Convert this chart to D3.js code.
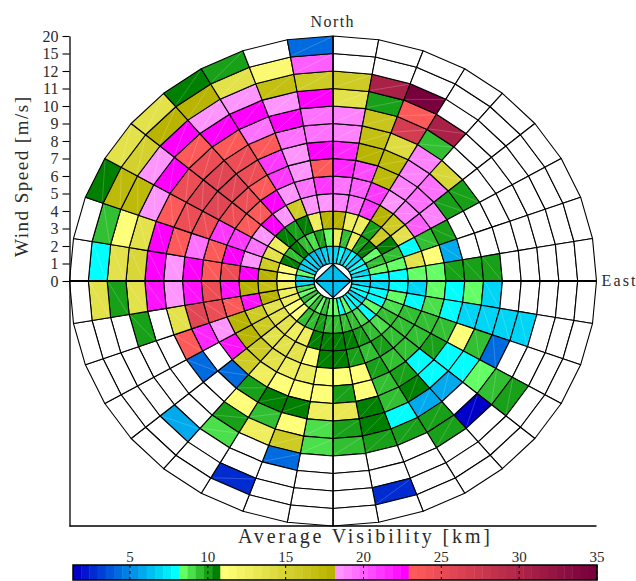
<!DOCTYPE html>
<html><head><meta charset="utf-8">
<script src="https://cdn.jsdelivr.net/npm/d3@7/dist/d3.min.js"></script>
<style>
body{margin:0;background:#fff}
text{font-family:"Liberation Serif","DejaVu Serif",serif;fill:#2a2a2a}
</style></head>
<body><svg id="chart" width="636" height="581"></svg>
<script>
// ---------------- data ----------------
const speedTicks = ["0","1","2","3","4","5","6","7","8","9","10","11","12","15","20"];
const nSectors = 36;               // 10-degree direction sectors, clockwise from North
const directionLabels = ["North","East"];
const calmValue = 6.3;             // 0-1 m/s
// average visibility [km]; each ring lists sectors s0..s35 (null = no data)
const ring1_2 = [6.8,7.8,6.8,7.8,6.8,7.8,7.8,6.8,7.8, 6.8,7.8,7.8,6.8,7.8,7.8,8.3,7.8,8.3, 8.3,9.4,8.3,9.4,8.3,9.4,8.3,8.8,6.8, 6.8,8.3,6.8,6.8,6.8,6.3,6.3,6.8,6.8];
const ring2_3 = [12.5,9.4,12.5,9.9,10.6,8.3,9.4,8.3,7.8, 6.8,7.8,7.8,8.3,7.8,8.8,9.4,9.4,9.4, 9.4,9.9,9.4,9.4,11.1,11.1,12.5,12.5,12.5, 11.1,11.1,10.6,9.4,10.6,9.4,8.8,9.9,8.3];
const ring3_4 = [17.8,12.5,12.5,9.9,15.8,10.6,9.4,8.3,7.8, 7.8,8.3,8.8,9.4,8.8,9.4,9.9,10.6,10.6, 10.6,10.6,12.5,12.5,13.8,13.8,13.8,17.8,17, 17.8,15.8,13.8,12.5,10.6,9.9,10.6,12.5,17.8];
const ring4_5 = [19,19.5,21,17.8,15.8,13.8,7.8,13.8,8.3, 6.8,7.8,9.4,9.4,9.4,9.9,9.4,9.9,10.6, 10.6,11.1,13.8,13.8,13.8,15.8,15.8,22,17.8, 22.6,18.4,19.6,18.4,22.6,18.4,15.8,18.4,18.4];
const ring5_6 = [19.5,20,21,18.5,19,20,9.4,11.1,8.3, 8.3,8.8,9.4,9.4,9.4,9.4,9.9,11.1,11.1, 11.1,12.5,12.5,13.8,15.8,17.8,17.8,23.2,22, 24.6,22.6,21,23.2,23.2,22.6,18.4,19.6,21];
const ring6_7 = [21.5,20.5,17.5,18.8,19.5,19,9.9,5.8,9.9, 7.8,7.8,9.4,9.9,7.8,9.9,9.4,11.1,9.9, 11.1,11.1,11.1,12.5,15.8,22,18.4,24.6,24.6, 23.2,23.2,21,24.6,24.6,23.2,21,18.4,23.2];
const ring7_8 = [21.5,17.8,17.5,18.8,19.5,9.9,null,null,9.9, 8.3,6.8,11.1,7.8,7.8,10.6,9.4,10.6,13, 12.5,10.6,10.6,9.9,4.0,null,21.5,26,22, 22.6,19.6,24.6,26,26,24.6,21,18.4,22.6];
const ring8_9 = [19,16.8,14,19,15,9.9,null,null,9.9, 6.8,6.8,9.4,7.8,6.0,6.0,7.8,10.6,9.9, 8.8,11.1,9.4,11.1,null,4.0,23.2,13.8,18.4, 18.4,23.2,24.6,26,26,24.6,23.2,19.6,19.6];
const ring9_10 = [18.8,16.5,27,9.4,null,null,null,null,null, null,6.8,4.0,8.3,null,9.9,9.9,9.9,9.4, 8.8,15.8,12.5,9.9,null,null,null,null,22, 22.6,22.6,23.2,24.6,24.6,23.2,19.6,22.6,19.6];
const ring10_11 = [13.8,9.9,23.2,30.5,null,null,null,null,null, null,6.8,null,9.4,1.6,9.9,null,null,null, null,4.0,null,9.1,null,null,null,9.9,13.8, 15,13.8,18.4,22.6,23.2,22.6,22.6,18.4,22.6];
const ring11_12 = [15.8,30.5,34.7,null,null,null,null,null,null, null,null,null,9.9,null,null,null,null,null, null,null,null,null,5.8,null,null,null,9.9, 13.8,11.2,17.5,18.4,22.6,18.4,18.4,17,15.8];
const ring12_15 = [null,null,null,null,null,null,null,null,null, null,null,null,null,null,null,null,2.8,null, null,null,2.5,null,null,null,null,null,13.8, 7.8,9.4,17.5,15.5,17.8,17.8,13.8,11.5,20];
const ring15_20 = [null,null,null,null,null,null,null,null,null, null,null,null,null,null,null,null,null,null, null,null,null,null,null,null,null,null,null, null,null,10.6,13.8,13.8,10.6,9.9,null,4.0];
const rings = [ring1_2,ring2_3,ring3_4,ring4_5,ring5_6,ring6_7,ring7_8,ring8_9,ring9_10,ring10_11,ring11_12,ring12_15,ring15_20];

const cbTicks = [5,10,15,20,25,30,35];
const cbMin = 1.34, cbMax = 35;
const cmapBands = [
  [13, "rgb(0,0,200)",   "rgb(0,255,255)"],
  [5,  "rgb(100,255,100)","rgb(0,128,0)"],
  [14, "rgb(255,255,120)","rgb(185,180,0)"],
  [9,  "rgb(255,150,255)","rgb(255,0,255)"],
  [23, "rgb(255,90,90)",  "rgb(120,0,60)"]
];

// ---------------- drawing ----------------
const svg = d3.select("#chart");
const cx = 333, cy = 281;
const nBins = speedTicks.length - 1;
const rX = d3.scaleLinear().domain([0, nBins]).range([0, 263.5]);
const rY = d3.scaleLinear().domain([0, nBins]).range([0, 245]);
const ang = d3.scaleLinear().domain([0, nSectors]).range([0, 2*Math.PI]);
const pt = (k, s) => [cx + rX(k)*Math.sin(ang(s)), cy - rY(k)*Math.cos(ang(s))];

const cmap = [];
cmapBands.forEach(([n,a,b]) => {
  const it = d3.interpolateRgb(a,b);
  for (let i=0;i<n;i++) cmap.push(it(n===1?0:i/(n-1)));
});
const cIndex = d3.scaleQuantize().domain([cbMin, cbMax]).range(d3.range(cmap.length));
const colour = v => v == null ? "#fff" : cmap[cIndex(Math.max(cbMin, Math.min(cbMax-1e-6, v)))];

const cells = [];
rings.forEach((arr, r) => arr.forEach((v, s) => cells.push({r, s, v})));

const gCells = svg.append("g");
const line = d3.line();
gCells.selectAll("path.cell").data(cells).join("path")
  .attr("class","cell")
  .attr("d", d => line([pt(d.r+1,d.s), pt(d.r+2,d.s), pt(d.r+2,d.s+1), pt(d.r+1,d.s+1)]) + "Z")
  .attr("fill", d => colour(d.v))
  .attr("stroke", "#000").attr("stroke-width", 1.1).attr("stroke-linejoin","round");
gCells.selectAll("path.seam").data(cells.filter(d => d.v != null)).join("path")
  .attr("class","seam")
  .attr("d", d => line([pt(d.r+1.08,d.s+0.05), pt(d.r+1.92,d.s+0.95)]))
  .attr("stroke", "#fff").attr("stroke-opacity", 0.28).attr("stroke-width", 0.7);

// calm centre
svg.append("path")
  .attr("d", line(d3.range(nSectors).map(s => pt(1, s))) + "Z")
  .attr("fill", "#fff").attr("stroke", "#000").attr("stroke-width", 1.1);
svg.append("path")
  .attr("d", line([0,9,18,27].map(s => pt(0.96, s))) + "Z")
  .attr("fill", colour(calmValue)).attr("stroke", "#000").attr("stroke-width", 1.2);

// axes lines through the centre
svg.append("line").attr("x1", cx).attr("x2", cx).attr("y1", cy - rY(nBins)).attr("y2", cy + rY(nBins))
  .attr("stroke", "#000").attr("stroke-width", 1.3);
svg.append("line").attr("x1", cx - rX(nBins)).attr("x2", cx + rX(nBins)).attr("y1", cy).attr("y2", cy)
  .attr("stroke", "#000").attr("stroke-width", 2);

// y axis (wind speed)
const yAxisScale = d3.scaleLinear().domain([-nBins, nBins]).range([cy + rY(nBins), cy - rY(nBins)]);
const yAxis = svg.append("g").attr("transform", `translate(${cx - rX(nBins)},0)`)
  .call(d3.axisLeft(yAxisScale).tickValues(d3.range(0, nBins+1)).tickFormat(i => speedTicks[i])
    .tickSize(7).tickPadding(4).tickSizeOuter(0));
yAxis.select(".domain").attr("stroke", "#000").attr("stroke-width", 1.3);
yAxis.selectAll(".tick line").attr("stroke", "#000").attr("stroke-width", 1.1);
yAxis.selectAll(".tick text").attr("font-family", "Liberation Serif").attr("font-size", 16).attr("fill","#2a2a2a");
svg.append("line").attr("x1", cx - rX(nBins)).attr("x2", cx + rX(nBins))
  .attr("y1", cy + rY(nBins)).attr("y2", cy + rY(nBins)).attr("stroke", "#000").attr("stroke-width", 1.3);

svg.append("text").attr("transform", `translate(28,177) rotate(-90)`).attr("text-anchor","middle")
  .attr("font-size", 19).attr("textLength", 160).attr("lengthAdjust","spacing").text("Wind Speed [m/s]");
svg.append("text").attr("x", cx - 1).attr("y", 27).attr("text-anchor","middle").attr("font-size", 16)
  .attr("textLength", 43).attr("lengthAdjust","spacing").text(directionLabels[0]);
svg.append("text").attr("x", cx + rX(nBins) + 5).attr("y", 286).attr("font-size", 16)
  .attr("textLength", 34).attr("lengthAdjust","spacing").text(directionLabels[1]);

// colour bar
const cbX = d3.scaleLinear().domain([cbMin, cbMax]).range([73, 597]);
const cbY = 565, cbH = 15;
const step = (cbMax - cbMin) / cmap.length;
const gcb = svg.append("g");
gcb.selectAll("rect").data(cmap).join("rect")
  .attr("x", (c,i) => cbX(cbMin + i*step)).attr("width", (c,i) => cbX(cbMin + (i+1)*step) - cbX(cbMin + i*step) + 0.4)
  .attr("y", cbY).attr("height", cbH).attr("fill", c => c);
gcb.selectAll("line.t").data(cbTicks).join("line").attr("class","t")
  .attr("x1", d => cbX(d)).attr("x2", d => cbX(d)).attr("y1", cbY).attr("y2", cbY + cbH)
  .attr("stroke", "#000").attr("stroke-width", 1).attr("stroke-dasharray", "3,3");
gcb.append("rect").attr("x", 73).attr("y", cbY).attr("width", 524).attr("height", cbH)
  .attr("fill", "none").attr("stroke", "#000").attr("stroke-width", 1.5);
gcb.selectAll("text").data(cbTicks).join("text")
  .attr("x", d => cbX(d)).attr("y", 562).attr("text-anchor","middle").attr("font-size", 15).text(d => d);
svg.append("text").attr("x", 364).attr("y", 543).attr("text-anchor","middle").attr("font-size", 20)
  .attr("textLength", 252).attr("lengthAdjust","spacing").text("Average Visibility [km]");
</script></body></html>
